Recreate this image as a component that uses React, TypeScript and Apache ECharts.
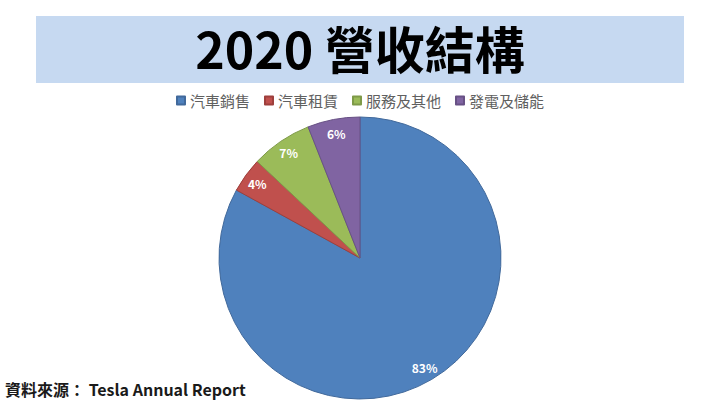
import React, { useEffect, useRef } from 'react';
import * as echarts from 'echarts';

const categories = ['汽車銷售', '汽車租賃', '服務及其他', '發電及儲能'];
const shares = [83, 4, 7, 6];
const colors = ['#4f81bd', '#c0504d', '#9bbb59', '#8064a2'];
const borders = ['#41699b', '#9e3f3c', '#7e9a48', '#685185'];

const titleText = '2020 營收結構';
const sourceText = '資料來源： Tesla Annual Report';

const FONT = '"Noto Sans CJK TC", "Noto Sans", sans-serif';

export default function App() {
  const chartRef = useRef<HTMLDivElement>(null);

  useEffect(() => {
    document.body.style.margin = '0';
    if (!chartRef.current) return;
    const chart = echarts.init(chartRef.current, undefined, { renderer: 'svg' });

    const pieData = categories.map((name, i) => ({
      name,
      value: shares[i],
      itemStyle: { color: colors[i], borderColor: borders[i], borderWidth: 1 },
    }));

    chart.setOption({
      animation: false,
      backgroundColor: '#ffffff',
      color: colors,
      title: {
        text: titleText,
        left: 'center',
        top: 10,
        textStyle: { fontFamily: FONT, fontSize: 50, fontWeight: 'bold', color: '#000000', lineHeight: 64 },
      },
      legend: {
        data: categories,
        top: 88,
        left: 'center',
        itemWidth: 8,
        itemHeight: 8,
        itemGap: 14,
        icon: 'rect',
        textStyle: { fontFamily: FONT, fontSize: 15, color: '#606060' },
      },
      graphic: [
        {
          type: 'rect',
          z: -10,
          shape: { x: 36, y: 16, width: 648, height: 67 },
          style: { fill: '#c6d9f1' },
          silent: true,
        },
        {
          type: 'text',
          left: 5,
          top: 381,
          style: { text: sourceText, fontFamily: FONT, fontSize: 16, fontWeight: 'bold', fill: '#1a1a1a' },
          silent: true,
        },
      ],
      series: [
        {
          type: 'pie',
          center: [360, 258],
          radius: [0, 141],
          startAngle: 90,
          clockwise: true,
          silent: true,
          label: { show: false },
          labelLine: { show: false },
          data: pieData,
        },
        {
          type: 'pie',
          center: [360, 258],
          radius: [108, 140],
          startAngle: 90,
          clockwise: true,
          silent: true,
          itemStyle: { color: 'rgba(0,0,0,0)', borderWidth: 0 },
          label: {
            show: true,
            position: 'inside',
            formatter: '{c}%',
            fontFamily: FONT,
            fontSize: 12,
            fontWeight: 'bold',
            color: '#ffffff',
          },
          labelLine: { show: false },
          data: categories.map((name, i) => ({ name, value: shares[i] })),
        },
      ],
    });

    return () => chart.dispose();
  }, []);

  return <div ref={chartRef} style={{ width: 720, height: 405 }} />;
}
